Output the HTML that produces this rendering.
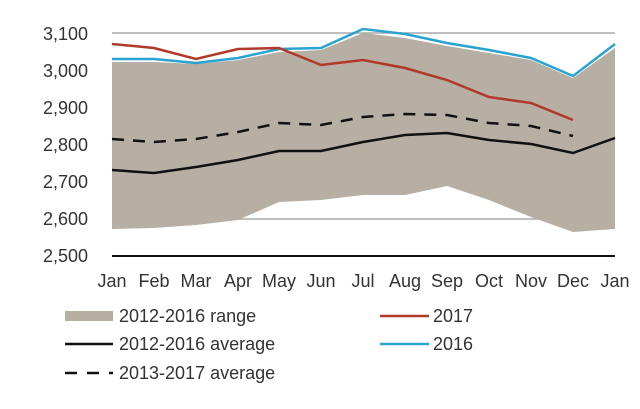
<!DOCTYPE html>
<html><head><meta charset="utf-8"><style>
body{margin:0;background:#fff;}
svg{display:block;font-family:"Liberation Sans",sans-serif;}
</style></head><body>
<svg width="640" height="409" viewBox="0 0 640 409">
<rect width="640" height="409" fill="#fff"/>
<line x1="112" y1="33" x2="615" y2="33" stroke="#aaa" stroke-width="1.5"/>
<line x1="112" y1="219" x2="615" y2="219" stroke="#aaa" stroke-width="1.5"/>
<polygon fill="#b7afa4" points="112,62 154,62 196,64 238,60 279,52 321,50 363,33 405,38 447,46 489,53 531,60 573,78 615,48 615,229 573,232 531,217 489,200 447,186 405,195 363,195 321,200 279,202 238,220 196,225 154,228 112,229"/>
<line x1="112" y1="256" x2="615" y2="256" stroke="#111" stroke-width="2"/>
<polyline fill="none" stroke="#29a3cf" stroke-width="2.5" points="112,59 154,59 196,63 238,58 279,49 321,48 363,29 405,34 447,43 489,50 531,58 573,76 615,44"/>
<polyline fill="none" stroke="#b0392a" stroke-width="2.5" points="112,44 154,48 196,59 238,49 279,48 321,65 363,60 405,68 447,80 489,97 531,103 573,120"/>
<polyline fill="none" stroke="#111" stroke-width="2.5" points="112,170 154,173 196,167 238,160 279,151 321,151 363,142 405,135 447,133 489,140 531,144 573,153 615,138"/>
<polyline fill="none" stroke="#111" stroke-width="2.5" stroke-dasharray="12,9" points="112,139 154,142 196,139 238,132 279,123 321,125 363,117 405,114 447,115 489,123 531,126 573,136"/>
<g font-size="18" fill="#333" text-anchor="end">
<text x="88" y="40">3,100</text><text x="88" y="77">3,000</text><text x="88" y="114">2,900</text><text x="88" y="151">2,800</text><text x="88" y="188">2,700</text><text x="88" y="225">2,600</text><text x="88" y="262">2,500</text>
</g>
<g font-size="18" fill="#333" text-anchor="middle">
<text x="112" y="287">Jan</text><text x="154" y="287">Feb</text><text x="196" y="287">Mar</text><text x="238" y="287">Apr</text><text x="279" y="287">May</text><text x="321" y="287">Jun</text><text x="363" y="287">Jul</text><text x="405" y="287">Aug</text><text x="447" y="287">Sep</text><text x="489" y="287">Oct</text><text x="531" y="287">Nov</text><text x="573" y="287">Dec</text><text x="615" y="287">Jan</text>
</g>
<rect x="65" y="311" width="48" height="10" fill="#b7afa4"/>
<line x1="65" y1="344" x2="113" y2="344" stroke="#111" stroke-width="2.5"/>
<line x1="65" y1="373" x2="113" y2="373" stroke="#111" stroke-width="2.5" stroke-dasharray="12,10"/>
<line x1="380" y1="316" x2="429" y2="316" stroke="#b0392a" stroke-width="2.5"/>
<line x1="380" y1="344" x2="429" y2="344" stroke="#29a3cf" stroke-width="2.5"/>
<g font-size="18" fill="#333">
<text x="119" y="322">2012-2016 range</text>
<text x="119" y="350">2012-2016 average</text>
<text x="119" y="379">2013-2017 average</text>
<text x="433" y="322">2017</text>
<text x="433" y="350">2016</text>
</g>
</svg>
</body></html>
